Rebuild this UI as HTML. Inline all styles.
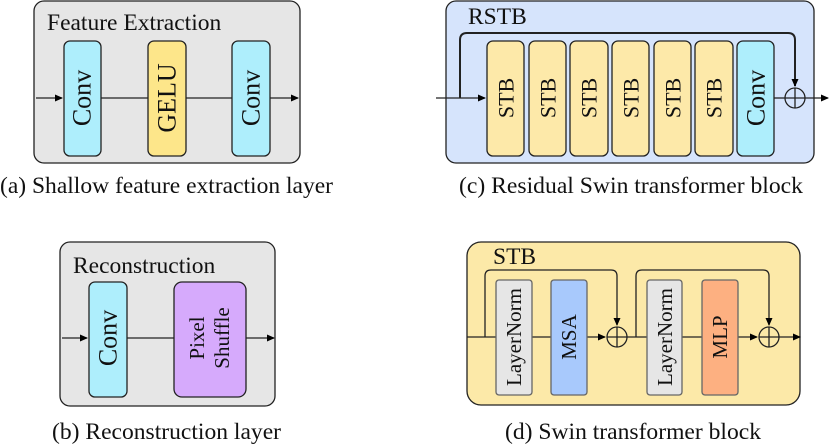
<!DOCTYPE html>
<html><head><style>body{margin:0;background:#fff}svg{display:block}text{font-family:"Liberation Serif","DejaVu Serif",serif}</style></head><body>
<svg width="830" height="447" viewBox="0 0 830 447" xmlns="http://www.w3.org/2000/svg">
<defs><marker id="ar" markerWidth="8" markerHeight="8" refX="7" refY="4" orient="auto" markerUnits="userSpaceOnUse"><path d="M0,0.5 L8,4 L0,7.5 z" fill="#000"/></marker></defs>
<g stroke="#222" stroke-width="1.3">
<rect x="34" y="1" width="266" height="162" rx="10" fill="#e6e6e6"/>
<line x1="36" y1="98" x2="62" y2="98" marker-end="url(#ar)"/>
<line x1="101" y1="98" x2="148" y2="98"/><line x1="186" y1="98" x2="232" y2="98"/>
<line x1="270" y1="98" x2="298" y2="98" marker-end="url(#ar)"/>
<rect x="64" y="41" width="37" height="115" rx="6" fill="#aeeefc"/>
<rect x="148" y="41" width="38" height="115" rx="6" fill="#fde68a"/>
<rect x="232" y="41" width="38" height="115" rx="6" fill="#aeeefc"/>
<rect x="446" y="1" width="368" height="162" rx="10" fill="#d6e4fc"/>
<line x1="436" y1="98" x2="485" y2="98" marker-end="url(#ar)"/>
<path d="M460,98 V40 Q460,33 467,33 H788 Q795,33 795,40 V86" fill="none" stroke-width="2" marker-end="url(#ar)"/>
<line x1="774" y1="98" x2="785" y2="98"/>
<line x1="805" y1="98" x2="828" y2="98" marker-end="url(#ar)"/>
<circle cx="795" cy="98" r="10" fill="none"/><line x1="785" y1="98" x2="805" y2="98"/><line x1="795" y1="88" x2="795" y2="108"/>
<rect x="487" y="41" width="37" height="115" rx="6" fill="#fde9a9"/>
<rect x="529" y="41" width="37" height="115" rx="6" fill="#fde9a9"/>
<rect x="570" y="41" width="38" height="115" rx="6" fill="#fde9a9"/>
<rect x="612" y="41" width="37" height="115" rx="6" fill="#fde9a9"/>
<rect x="654" y="41" width="37" height="115" rx="6" fill="#fde9a9"/>
<rect x="695" y="41" width="38" height="115" rx="6" fill="#fde9a9"/>
<rect x="737" y="41" width="37" height="115" rx="6" fill="#aeeefc"/>
<rect x="60" y="242" width="215" height="164" rx="10" fill="#e6e6e6"/>
<line x1="62" y1="338" x2="87" y2="338" marker-end="url(#ar)"/>
<line x1="127" y1="338" x2="174" y2="338"/>
<line x1="246" y1="338" x2="274" y2="338" marker-end="url(#ar)"/>
<rect x="89" y="282" width="38" height="115" rx="6" fill="#aeeefc"/>
<rect x="174" y="282" width="72" height="115" rx="8" fill="#d6aafc"/>
<rect x="467" y="242" width="333" height="163" rx="14" fill="#fce9a8"/>
<line x1="467" y1="337" x2="496" y2="337"/>
<line x1="532" y1="337" x2="551" y2="337"/>
<line x1="587" y1="337" x2="605" y2="337" marker-end="url(#ar)"/>
<line x1="627" y1="337" x2="647" y2="337"/>
<line x1="682" y1="337" x2="702" y2="337"/>
<line x1="738" y1="337" x2="757" y2="337" marker-end="url(#ar)"/>
<line x1="779" y1="337" x2="800" y2="337" marker-end="url(#ar)"/>
<path d="M485,337 V276 Q485,270 491,270 H611 Q617,270 617,276 V325" fill="none" marker-end="url(#ar)"/>
<path d="M636,337 V276 Q636,270 642,270 H763 Q769,270 769,276 V325" fill="none" marker-end="url(#ar)"/>
<circle cx="617" cy="337" r="10" fill="none"/><line x1="607" y1="337" x2="627" y2="337"/><line x1="617" y1="327" x2="617" y2="347"/>
<circle cx="769" cy="337" r="10" fill="none"/><line x1="759" y1="337" x2="779" y2="337"/><line x1="769" y1="327" x2="769" y2="347"/>
<rect x="496" y="280" width="36" height="115" rx="3" fill="#e6e6e6" stroke="#666"/>
<rect x="551" y="280" width="36" height="115" rx="3" fill="#a8c9fc" stroke="#666"/>
<rect x="647" y="280" width="35" height="115" rx="3" fill="#e6e6e6" stroke="#666"/>
<rect x="702" y="280" width="36" height="115" rx="3" fill="#fdb081" stroke="#666"/>
</g>
<g fill="#111" font-size="23.5">
<text x="47" y="30">Feature Extraction</text>
<text x="468" y="24">RSTB</text>
<text x="73" y="273">Reconstruction</text>
<text x="493" y="264">STB</text>
<text x="0" y="193" textLength="333" lengthAdjust="spacingAndGlyphs">(a) Shallow feature extraction layer</text>
<text x="459" y="193" textLength="344" lengthAdjust="spacingAndGlyphs">(c) Residual Swin transformer block</text>
<text x="52" y="439" textLength="229" lengthAdjust="spacingAndGlyphs">(b) Reconstruction layer</text>
<text x="505" y="439" textLength="256" lengthAdjust="spacingAndGlyphs">(d) Swin transformer block</text>
</g>
<g fill="#111" font-size="26" text-anchor="middle" dominant-baseline="central">
<text transform="translate(82,98) rotate(-90)">Conv</text>
<text transform="translate(167,98) rotate(-90)">GELU</text>
<text transform="translate(251,98) rotate(-90)">Conv</text>
<text transform="translate(108,338) rotate(-90)">Conv</text>
<text transform="translate(756,98) rotate(-90)">Conv</text>
</g>
<g fill="#111" font-size="22" text-anchor="middle" dominant-baseline="central">
<text transform="translate(506,98) rotate(-90)">STB</text>
<text transform="translate(548,98) rotate(-90)">STB</text>
<text transform="translate(589,98) rotate(-90)">STB</text>
<text transform="translate(631,98) rotate(-90)">STB</text>
<text transform="translate(673,98) rotate(-90)">STB</text>
<text transform="translate(714,98) rotate(-90)">STB</text>
</g>
<g fill="#111" font-size="21" text-anchor="middle" dominant-baseline="central">
<text transform="translate(197,338) rotate(-90)">Pixel</text>
<text transform="translate(222,338) rotate(-90)">Shuffle</text>
<text transform="translate(514,337) rotate(-90)">LayerNorm</text>
<text transform="translate(569,337) rotate(-90)">MSA</text>
<text transform="translate(665,337) rotate(-90)">LayerNorm</text>
<text transform="translate(720,337) rotate(-90)">MLP</text>
</g>
</svg>
</body></html>
